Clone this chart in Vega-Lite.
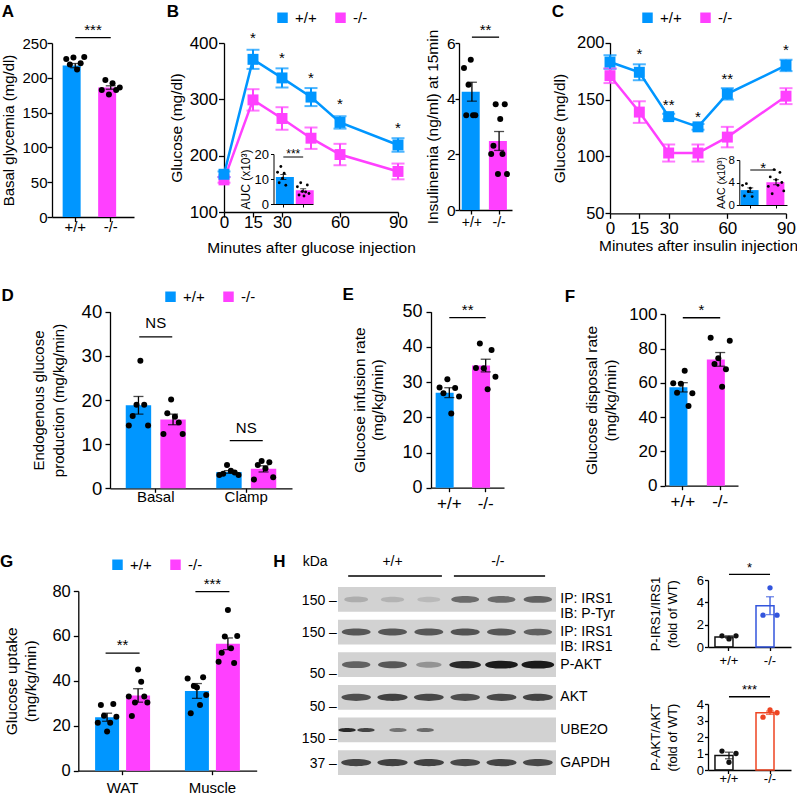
{
"$schema":"https://vega.github.io/schema/vega-lite/v6.json",
"width":797,"height":795,"autosize":{"type":"none"},"padding":0,"background":"white",
"config":{
 "font":"Liberation Sans",
 "view":{"stroke":null},
 "axis":{"grid":false,"domainColor":"#000","tickColor":"#000","labelColor":"#000","titleColor":"#000","labelFontSize":15,"titleFontSize":15,"titleFontWeight":"normal","tickSize":5,"labelPadding":3,"domainWidth":1.3,"tickWidth":1.3,"labelFlush":false,"labelOverlap":false,"labelAngle":0},
 "legend":{"labelFontSize":15,"labelColor":"#000"},
 "text":{"fontSize":15,"color":"#000"}
},
"datasets":{
 "A_bars":[{"g":"+/+","mean":217.5,"sem":3},{"g":"-/-","mean":186,"sem":2.5}],
 "A_pts":[{"g":"+/+","rep":"1","v":227},{"g":"+/+","rep":"2","v":219},{"g":"+/+","rep":"3","v":229},{"g":"+/+","rep":"4","v":212},{"g":"+/+","rep":"5","v":221},{"g":"+/+","rep":"6","v":230},
  {"g":"-/-","rep":"1","v":182.5},{"g":"-/-","rep":"2","v":197},{"g":"-/-","rep":"3","v":176},{"g":"-/-","rep":"4","v":192},{"g":"-/-","rep":"5","v":182.5},{"g":"-/-","rep":"6","v":186}],
 "A_sig":[{"g1":"+/+","g2":"-/-","y":257.6,"ys":261.6,"label":"***"}],
 "B_line":[{"t":0,"g":"-/-","mean":157,"sem":5},{"t":15,"g":"-/-","mean":299,"sem":19},{"t":30,"g":"-/-","mean":266,"sem":20},{"t":45,"g":"-/-","mean":231,"sem":19},{"t":60,"g":"-/-","mean":202,"sem":19},{"t":90,"g":"-/-","mean":172,"sem":14},
  {"t":0,"g":"+/+","mean":167,"sem":5},{"t":15,"g":"+/+","mean":371,"sem":17},{"t":30,"g":"+/+","mean":338,"sem":17},{"t":45,"g":"+/+","mean":304,"sem":16},{"t":60,"g":"+/+","mean":259,"sem":11},{"t":90,"g":"+/+","mean":219,"sem":12}],
 "B_sig":[{"t":15,"y":400,"label":"*"},{"t":30,"y":364.5,"label":"*"},{"t":45,"y":329,"label":"*"},{"t":60,"y":283,"label":"*"},{"t":90,"y":240,"label":"*"}],
 "Bi_bars":[{"g":"+/+","mean":10.8,"sem":1.0},{"g":"-/-","mean":5.5,"sem":0.6}],
 "Bi_pts":[{"g":"+/+","rep":"1","v":12.7},{"g":"+/+","rep":"2","v":8.5},{"g":"+/+","rep":"3","v":15},{"g":"+/+","rep":"4","v":10.3},{"g":"+/+","rep":"5","v":12.3},{"g":"+/+","rep":"6","v":7.5},
  {"g":"-/-","rep":"1","v":6.9},{"g":"-/-","rep":"2","v":3.6},{"g":"-/-","rep":"3","v":8.5},{"g":"-/-","rep":"4","v":5},{"g":"-/-","rep":"5","v":3.2},{"g":"-/-","rep":"6","v":4.8},{"g":"-/-","rep":"7","v":7.6},{"g":"-/-","rep":"8","v":4.2}],
 "Bi_sig":[{"g1":"+/+","g2":"-/-","y":18.8,"ys":18.4,"label":"***"}],
 "Ins_bars":[{"g":"+/+","mean":4.25,"sem":0.34},{"g":"-/-","mean":2.48,"sem":0.34}],
 "Ins_pts":[{"g":"+/+","rep":"1","v":5.1},{"g":"+/+","rep":"2","v":3.4},{"g":"+/+","rep":"3","v":4.5},{"g":"+/+","rep":"4","v":5.4},{"g":"+/+","rep":"5","v":3.4},{"g":"+/+","rep":"6","v":3.4},
  {"g":"-/-","rep":"1","v":2.01},{"g":"-/-","rep":"2","v":2.31},{"g":"-/-","rep":"3","v":3.8},{"g":"-/-","rep":"4","v":1.29},{"g":"-/-","rep":"5","v":3.27},{"g":"-/-","rep":"6","v":2.01},{"g":"-/-","rep":"7","v":3.8},{"g":"-/-","rep":"8","v":1.29}],
 "Ins_sig":[{"g1":"+/+","g2":"-/-","y":6.21,"ys":6.28,"label":"**"}],
 "C_line":[{"t":0,"g":"-/-","mean":171,"sem":6.5},{"t":15,"g":"-/-","mean":139,"sem":9.5},{"t":30,"g":"-/-","mean":103,"sem":7.5},{"t":45,"g":"-/-","mean":103,"sem":7.5},{"t":60,"g":"-/-","mean":117,"sem":9},{"t":90,"g":"-/-","mean":153,"sem":7},
  {"t":0,"g":"+/+","mean":183,"sem":6},{"t":15,"g":"+/+","mean":174,"sem":7},{"t":30,"g":"+/+","mean":135,"sem":2.5},{"t":45,"g":"+/+","mean":126,"sem":2.5},{"t":60,"g":"+/+","mean":155,"sem":5},{"t":90,"g":"+/+","mean":180,"sem":5}],
 "C_sig":[{"t":15,"y":186.1,"label":"*"},{"t":30,"y":140.4,"label":"**"},{"t":45,"y":130.7,"label":"*"},{"t":60,"y":163.3,"label":"**"},{"t":90,"y":189.6,"label":"*"}],
 "Ci_bars":[{"g":"+/+","mean":2.65,"sem":0.4},{"g":"-/-","mean":4.05,"sem":0.45}],
 "Ci_pts":[{"g":"+/+","rep":"1","v":3.5},{"g":"+/+","rep":"2","v":1.6},{"g":"+/+","rep":"3","v":3.8},{"g":"+/+","rep":"4","v":2.4},{"g":"+/+","rep":"5","v":3.0},{"g":"+/+","rep":"6","v":1.5},
  {"g":"-/-","rep":"1","v":3.3},{"g":"-/-","rep":"2","v":5.0},{"g":"-/-","rep":"3","v":2.0},{"g":"-/-","rep":"4","v":6.3},{"g":"-/-","rep":"5","v":4.5},{"g":"-/-","rep":"6","v":3.5},{"g":"-/-","rep":"7","v":5.8},{"g":"-/-","rep":"8","v":4.0},{"g":"-/-","rep":"9","v":2.5}],
 "Ci_sig":[{"g1":"+/+","g2":"-/-","y":6.22,"ys":5.64,"label":"*"}],
 "D_bars":[{"grp":"Basal","g":"+/+","mean":18.8,"sem":2.0},{"grp":"Basal","g":"-/-","mean":15.6,"sem":1.2},{"grp":"Clamp","g":"+/+","mean":3.7,"sem":0.3},{"grp":"Clamp","g":"-/-","mean":4.4,"sem":0.7}],
 "D_pts":[
  {"grp":"Basal","slot":"+/+1","v":14.2},{"grp":"Basal","slot":"+/+2","v":16.4},{"grp":"Basal","slot":"+/+3","v":18.9},{"grp":"Basal","slot":"+/+4","v":28.9},{"grp":"Basal","slot":"+/+5","v":18.9},{"grp":"Basal","slot":"+/+6","v":14.2},
  {"grp":"Basal","slot":"-/-1","v":12.3},{"grp":"Basal","slot":"-/-2","v":17},{"grp":"Basal","slot":"-/-3","v":20.1},{"grp":"Basal","slot":"-/-4","v":16.2},{"grp":"Basal","slot":"-/-5","v":14.9},{"grp":"Basal","slot":"-/-6","v":12.3},
  {"grp":"Clamp","slot":"+/+1","v":3.0},{"grp":"Clamp","slot":"+/+2","v":3.3},{"grp":"Clamp","slot":"+/+3","v":5.3},{"grp":"Clamp","slot":"+/+4","v":4.0},{"grp":"Clamp","slot":"+/+5","v":3.6},{"grp":"Clamp","slot":"+/+6","v":3.0},
  {"grp":"Clamp","slot":"-/-1","v":2.0},{"grp":"Clamp","slot":"-/-2","v":5.3},{"grp":"Clamp","slot":"-/-3","v":6.2},{"grp":"Clamp","slot":"-/-4","v":4.5},{"grp":"Clamp","slot":"-/-5","v":5.9},{"grp":"Clamp","slot":"-/-6","v":2.5}],
 "D_sig":[{"grp":"Basal","y":34.3,"ys":36.2,"label":"NS"},{"grp":"Clamp","y":10.8,"ys":12.46,"label":"NS"}],
 "E_bars":[{"g":"+/+","mean":27,"sem":1.4},{"g":"-/-","mean":34.7,"sem":1.8}],
 "E_pts":[{"g":"+/+","rep":"1","v":28.5},{"g":"+/+","rep":"2","v":26.8},{"g":"+/+","rep":"3","v":30.8},{"g":"+/+","rep":"4","v":21.1},{"g":"+/+","rep":"5","v":28.3},{"g":"+/+","rep":"6","v":25.9},
  {"g":"-/-","rep":"1","v":34},{"g":"-/-","rep":"2","v":41},{"g":"-/-","rep":"3","v":33.9},{"g":"-/-","rep":"4","v":28},{"g":"-/-","rep":"5","v":39.1},{"g":"-/-","rep":"6","v":31.5}],
 "E_sig":[{"g1":"+/+","g2":"-/-","y":48.3,"ys":49.1,"label":"**"}],
 "F_bars":[{"g":"+/+","mean":57.4,"sem":2.7},{"g":"-/-","mean":73.7,"sem":4}],
 "F_pts":[{"g":"+/+","rep":"1","v":59.7},{"g":"+/+","rep":"2","v":54.3},{"g":"+/+","rep":"3","v":59.5},{"g":"+/+","rep":"4","v":67},{"g":"+/+","rep":"5","v":46.5},{"g":"+/+","rep":"6","v":54},
  {"g":"-/-","rep":"1","v":86.3},{"g":"-/-","rep":"2","v":71},{"g":"-/-","rep":"3","v":74.3},{"g":"-/-","rep":"4","v":57.8},{"g":"-/-","rep":"5","v":67.9},{"g":"-/-","rep":"6","v":84.6}],
 "F_sig":[{"g1":"+/+","g2":"-/-","y":98,"ys":99.6,"label":"*"}],
 "G_bars":[{"grp":"WAT","g":"+/+","mean":23.8,"sem":1.8},{"grp":"WAT","g":"-/-","mean":33.5,"sem":3},{"grp":"Muscle","g":"+/+","mean":35.5,"sem":3.3},{"grp":"Muscle","g":"-/-","mean":56.5,"sem":2.6}],
 "G_pts":[
  {"grp":"WAT","slot":"+/+1","v":21.4},{"grp":"WAT","slot":"+/+2","v":29.2},{"grp":"WAT","slot":"+/+3","v":24.5},{"grp":"WAT","slot":"+/+4","v":17.4},{"grp":"WAT","slot":"+/+5","v":21.4},{"grp":"WAT","slot":"+/+6","v":29.7},{"grp":"WAT","slot":"+/+7","v":24},
  {"grp":"WAT","slot":"-/-1","v":33},{"grp":"WAT","slot":"-/-2","v":24.4},{"grp":"WAT","slot":"-/-3","v":30.4},{"grp":"WAT","slot":"-/-4","v":45.1},{"grp":"WAT","slot":"-/-5","v":39.6},{"grp":"WAT","slot":"-/-6","v":33},{"grp":"WAT","slot":"-/-7","v":30.4},
  {"grp":"Muscle","slot":"+/+1","v":41.1},{"grp":"Muscle","slot":"+/+2","v":25.6},{"grp":"Muscle","slot":"+/+3","v":37.7},{"grp":"Muscle","slot":"+/+4","v":37},{"grp":"Muscle","slot":"+/+5","v":29.3},{"grp":"Muscle","slot":"+/+6","v":41.6},{"grp":"Muscle","slot":"+/+7","v":33.7},
  {"grp":"Muscle","slot":"-/-1","v":48.5},{"grp":"Muscle","slot":"-/-2","v":52.5},{"grp":"Muscle","slot":"-/-3","v":59.7},{"grp":"Muscle","slot":"-/-4","v":71.5},{"grp":"Muscle","slot":"-/-5","v":54.5},{"grp":"Muscle","slot":"-/-6","v":48},{"grp":"Muscle","slot":"-/-7","v":60}],
 "G_sig":[{"grp":"WAT","y":52.3,"ys":53.8,"label":"**"},{"grp":"Muscle","y":79.7,"ys":80.8,"label":"***"}],
 "H_rows":[{"row":"P-Tyr","label":"IP: IRS1\nIB: P-Tyr","kda":"150 –"},{"row":"IRS1","label":"IP: IRS1\nIB: IRS1","kda":"150 –"},{"row":"P-AKT","label":"P-AKT","kda":"50 –"},{"row":"AKT","label":"AKT","kda":"50 –"},{"row":"UBE2O","label":"UBE2O","kda":"150 –"},{"row":"GAPDH","label":"GAPDH","kda":"37 –"}],
 "H_bands":[
  {"row":"P-Tyr","lane":1,"intensity":0.18},{"row":"P-Tyr","lane":2,"intensity":0.15},{"row":"P-Tyr","lane":3,"intensity":0.12},{"row":"P-Tyr","lane":4,"intensity":0.5},{"row":"P-Tyr","lane":5,"intensity":0.5},{"row":"P-Tyr","lane":6,"intensity":0.55},
  {"row":"IRS1","lane":1,"intensity":0.6},{"row":"IRS1","lane":2,"intensity":0.6},{"row":"IRS1","lane":3,"intensity":0.6},{"row":"IRS1","lane":4,"intensity":0.62},{"row":"IRS1","lane":5,"intensity":0.6},{"row":"IRS1","lane":6,"intensity":0.55},
  {"row":"P-AKT","lane":1,"intensity":0.55},{"row":"P-AKT","lane":2,"intensity":0.6},{"row":"P-AKT","lane":3,"intensity":0.3},{"row":"P-AKT","lane":4,"intensity":0.85},{"row":"P-AKT","lane":5,"intensity":0.95},{"row":"P-AKT","lane":6,"intensity":0.95},
  {"row":"AKT","lane":1,"intensity":0.65},{"row":"AKT","lane":2,"intensity":0.72},{"row":"AKT","lane":3,"intensity":0.68},{"row":"AKT","lane":4,"intensity":0.65},{"row":"AKT","lane":5,"intensity":0.68},{"row":"AKT","lane":6,"intensity":0.7},
  {"row":"GAPDH","lane":1,"intensity":0.7},{"row":"GAPDH","lane":2,"intensity":0.72},{"row":"GAPDH","lane":3,"intensity":0.72},{"row":"GAPDH","lane":4,"intensity":0.68},{"row":"GAPDH","lane":5,"intensity":0.7},{"row":"GAPDH","lane":6,"intensity":0.68}],
 "H_ube":[{"row":"UBE2O","lane":0.75,"intensity":0.85},{"row":"UBE2O","lane":1.27,"intensity":0.7},{"row":"UBE2O","lane":2.15,"intensity":0.45},{"row":"UBE2O","lane":2.9,"intensity":0.5}],
 "H_hdr":[{"row":"hdr","label":"kDa","lane":-0.13},{"row":"hdr","label":"+/+","lane":2},{"row":"hdr","label":"-/-","lane":4.9}],
 "H_grp":[{"row":"hdr","from":0.78,"to":3.36},{"row":"hdr","from":3.69,"to":6.2}],
 "Ht_bars":[{"g":"+/+","mean":0.9,"sem":0.1},{"g":"-/-","mean":3.7,"sem":0.8}],
 "Ht_pts":[{"g":"+/+","rep":"1","v":1.0},{"g":"+/+","rep":"2","v":0.72},{"g":"+/+","rep":"3","v":1.0},{"g":"-/-","rep":"1","v":2.85},{"g":"-/-","rep":"2","v":5.3},{"g":"-/-","rep":"3","v":2.85}],
 "Ht_sig":[{"g1":"+/+","g2":"-/-","y":6.51,"ys":6.68,"label":"*"}],
 "Hb_bars":[{"g":"+/+","mean":0.88,"sem":0.2},{"g":"-/-","mean":3.47,"sem":0.1}],
 "Hb_pts":[{"g":"+/+","rep":"1","v":1.15},{"g":"+/+","rep":"2","v":0.47},{"g":"+/+","rep":"3","v":1.0},{"g":"-/-","rep":"1","v":3.2},{"g":"-/-","rep":"2","v":3.64},{"g":"-/-","rep":"3","v":3.47}],
 "Hb_sig":[{"g1":"+/+","g2":"-/-","y":4.44,"ys":4.6,"label":"***"}]
},
"layer":[
 {"layer":[
  {"data":{"name":"A_bars"},"mark":{"type":"bar"},"encoding":{
    "x":{"field":"g","type":"nominal","scale":{"domain":["+/+","-/-"],"range":[52,134],"paddingInner":0.29,"paddingOuter":0.3},"axis":{"orient":"bottom","offset":-578,"title":null,"tickSize":4.5,"labelPadding":-2.5}},
    "y":{"field":"mean","type":"quantitative","scale":{"domain":[0,250],"range":[217,43],"nice":false,"zero":false},"axis":{"orient":"left","offset":-52,"values":[0,50,100,150,200,250],"format":"d","title":"Basal glycemia (mg/dl)","titlePadding":5.7,"labelPadding":0}},
    "color":{"field":"g","type":"nominal","scale":{"domain":["+/+","-/-"],"range":["#0096ff","#ff40ff"]},"legend":null}}},
  {"data":{"name":"A_bars"},"mark":{"type":"errorbar","ticks":true,"size":10,"thickness":1.3,"color":"#000"},"encoding":{
    "x":{"field":"g","type":"nominal","title":null},"y":{"field":"mean","type":"quantitative","title":"Basal glycemia (mg/dl)"},"yError":{"field":"sem"}}},
  {"data":{"name":"A_pts"},"mark":{"type":"circle","color":"#000","size":36,"opacity":1},"encoding":{
    "x":{"field":"g","type":"nominal"},"xOffset":{"field":"rep","type":"nominal","scale":{"type":"point","padding":1}},"y":{"field":"v","type":"quantitative"}}},
  {"data":{"name":"A_sig"},"mark":{"type":"rule","color":"#000","strokeWidth":1.3},"encoding":{
    "x":{"field":"g1","type":"nominal"},"x2":{"field":"g2"},"y":{"field":"y","type":"quantitative"}}},
  {"data":{"name":"A_sig"},"mark":{"type":"text","dx":17.75,"fontSize":15,"baseline":"alphabetic"},"encoding":{
    "x":{"field":"g1","type":"nominal"},"y":{"field":"ys","type":"quantitative"},"text":{"field":"label"}}},
  {"data":{"values":[{"g":"+/+","L":"A"}]},"mark":{"type":"text","fontSize":17,"fontWeight":"bold","align":"left","baseline":"alphabetic"},"encoding":{
    "x":{"field":"g","type":"nominal","bandPosition":-2.42},"y":{"datum":287.8,"type":"quantitative"},"text":{"field":"L"}}}
 ]},
 {"layer":[
  {"data":{"name":"B_line"},"mark":{"type":"line","strokeWidth":2.5},"encoding":{
    "x":{"field":"t","type":"quantitative","scale":{"domain":[0,90],"range":[224,398],"nice":false,"zero":false},"axis":{"orient":"bottom","offset":-583,"values":[0,15,30,60,90],"format":"d","title":"Minutes after glucose injection","titlePadding":10.5,"labelPadding":-3,"labelFontSize":17,"titleFontSize":15.5}},
    "y":{"field":"mean","type":"quantitative","scale":{"domain":[100,400],"range":[212,43],"nice":false,"zero":false},"axis":{"orient":"left","offset":-224,"values":[100,200,300,400],"format":"d","title":"Glucose (mg/dl)","titlePadding":4.8,"labelPadding":1,"tickSize":5.5,"labelFontSize":17,"titleFontSize":15.5}},
    "color":{"field":"g","type":"nominal","scale":{"domain":["+/+","-/-"],"range":["#0096ff","#ff40ff"]},"legend":null}}},
  {"data":{"name":"B_line"},"mark":{"type":"errorbar","ticks":true,"size":13,"thickness":2},"encoding":{
    "x":{"field":"t","type":"quantitative","title":"Minutes after glucose injection"},"y":{"field":"mean","type":"quantitative","title":"Glucose (mg/dl)"},"yError":{"field":"sem"},
    "color":{"field":"g","type":"nominal","legend":null}}},
  {"data":{"name":"B_line"},"mark":{"type":"point","shape":"square","filled":true,"size":120,"opacity":1},"encoding":{
    "x":{"field":"t","type":"quantitative"},"y":{"field":"mean","type":"quantitative"},
    "color":{"field":"g","type":"nominal","legend":null}}},
  {"data":{"name":"B_sig"},"mark":{"type":"text","fontSize":15,"baseline":"alphabetic"},"encoding":{
    "x":{"field":"t","type":"quantitative"},"y":{"field":"y","type":"quantitative"},"text":{"field":"label"}}},
  {"data":{"values":[{"L":"B"}]},"mark":{"type":"text","fontSize":17,"fontWeight":"bold","align":"left","baseline":"alphabetic"},"encoding":{
    "x":{"datum":-29.6,"type":"quantitative"},"y":{"datum":446.7,"type":"quantitative"},"text":{"field":"L"}}}
 ]},
 {"layer":[
  {"data":{"name":"Bi_bars"},"mark":{"type":"bar"},"encoding":{
    "x":{"field":"g","type":"nominal","scale":{"domain":["+/+","-/-"],"range":[273.5,313],"paddingInner":0.25,"paddingOuter":0.12},"axis":{"orient":"bottom","offset":-591,"title":null,"labels":false,"tickSize":3,"domainWidth":1,"tickWidth":1}},
    "y":{"field":"mean","type":"quantitative","scale":{"domain":[0,20],"range":[204,154],"nice":false},"axis":{"orient":"left","offset":-273.5,"values":[0,10,20],"format":"d","title":"AUC (x10³)","labelFontSize":13,"titleFontSize":12,"tickSize":3,"labelPadding":2,"titlePadding":1.3,"domainWidth":1,"tickWidth":1}},
    "color":{"field":"g","type":"nominal","scale":{"domain":["+/+","-/-"],"range":["#0096ff","#ff40ff"]},"legend":null}}},
  {"data":{"name":"Bi_bars"},"mark":{"type":"errorbar","ticks":true,"size":6,"thickness":1,"color":"#000"},"encoding":{
    "x":{"field":"g","type":"nominal","title":null},"y":{"field":"mean","type":"quantitative","title":"AUC (x10³)"},"yError":{"field":"sem"}}},
  {"data":{"name":"Bi_pts"},"mark":{"type":"circle","color":"#000","size":8,"opacity":1},"encoding":{
    "x":{"field":"g","type":"nominal"},"xOffset":{"field":"rep","type":"nominal","scale":{"type":"point","padding":1}},"y":{"field":"v","type":"quantitative"}}},
  {"data":{"name":"Bi_sig"},"mark":{"type":"rule","color":"#000","strokeWidth":1},"encoding":{
    "x":{"field":"g1","type":"nominal"},"x2":{"field":"g2"},"y":{"field":"y","type":"quantitative"}}},
  {"data":{"name":"Bi_sig"},"mark":{"type":"text","dx":9.9,"fontSize":12,"baseline":"alphabetic"},"encoding":{
    "x":{"field":"g1","type":"nominal"},"y":{"field":"ys","type":"quantitative"},"text":{"field":"label"}}}
 ]},
 {"layer":[
  {"data":{"name":"Ins_bars"},"mark":{"type":"bar"},"encoding":{
    "x":{"field":"g","type":"nominal","scale":{"domain":["+/+","-/-"],"range":[459,512],"paddingInner":0.25,"paddingOuter":0.1},"axis":{"orient":"bottom","offset":-585,"title":null,"tickSize":4,"labelPadding":1.5,"labelFontSize":14}},
    "y":{"field":"mean","type":"quantitative","scale":{"domain":[0,6],"range":[210,43],"nice":false},"axis":{"orient":"left","offset":-459,"values":[0,2,4,6],"format":"d","title":"Insulinemia (ng/ml) at 15min","titlePadding":6.2,"labelPadding":0,"tickSize":4,"labelFontSize":15.5,"titleFontSize":15.5}},
    "color":{"field":"g","type":"nominal","scale":{"domain":["+/+","-/-"],"range":["#0096ff","#ff40ff"]},"legend":null}}},
  {"data":{"name":"Ins_bars"},"mark":{"type":"errorbar","ticks":true,"size":10,"thickness":1.3,"color":"#000"},"encoding":{
    "x":{"field":"g","type":"nominal","title":null},"y":{"field":"mean","type":"quantitative","title":"Insulinemia (ng/ml) at 15min"},"yError":{"field":"sem"}}},
  {"data":{"name":"Ins_pts"},"mark":{"type":"circle","color":"#000","size":36,"opacity":1},"encoding":{
    "x":{"field":"g","type":"nominal"},"xOffset":{"field":"rep","type":"nominal","scale":{"type":"point","padding":1}},"y":{"field":"v","type":"quantitative"}}},
  {"data":{"name":"Ins_sig"},"mark":{"type":"rule","color":"#000","strokeWidth":1.3},"encoding":{
    "x":{"field":"g1","type":"nominal"},"x2":{"field":"g2"},"y":{"field":"y","type":"quantitative"}}},
  {"data":{"name":"Ins_sig"},"mark":{"type":"text","dx":13.6,"fontSize":15,"baseline":"alphabetic"},"encoding":{
    "x":{"field":"g1","type":"nominal"},"y":{"field":"ys","type":"quantitative"},"text":{"field":"label"}}}
 ]},
 {"layer":[
  {"data":{"name":"C_line"},"mark":{"type":"line","strokeWidth":2.5},"encoding":{
    "x":{"field":"t","type":"quantitative","scale":{"domain":[0,90],"range":[610,786],"nice":false,"zero":false},"axis":{"orient":"bottom","offset":-581.7,"values":[0,15,30,60,90],"format":"d","title":"Minutes after insulin injection","titlePadding":2,"labelPadding":2,"labelFontSize":17,"titleFontSize":15.5}},
    "y":{"field":"mean","type":"quantitative","scale":{"domain":[50,200],"range":[213.3,42.7],"nice":false,"zero":false},"axis":{"orient":"left","offset":-610,"values":[50,100,150,200],"format":"d","title":"Glucose (mg/dl)","titlePadding":9.2,"labelPadding":1,"labelFontSize":16.5,"titleFontSize":15.5}},
    "color":{"field":"g","type":"nominal","scale":{"domain":["+/+","-/-"],"range":["#0096ff","#ff40ff"]},"legend":null}}},
  {"data":{"name":"C_line"},"mark":{"type":"errorbar","ticks":true,"size":13,"thickness":2},"encoding":{
    "x":{"field":"t","type":"quantitative","title":"Minutes after insulin injection"},"y":{"field":"mean","type":"quantitative","title":"Glucose (mg/dl)"},"yError":{"field":"sem"},
    "color":{"field":"g","type":"nominal","legend":null}}},
  {"data":{"name":"C_line"},"mark":{"type":"point","shape":"square","filled":true,"size":120,"opacity":1},"encoding":{
    "x":{"field":"t","type":"quantitative"},"y":{"field":"mean","type":"quantitative"},
    "color":{"field":"g","type":"nominal","legend":null}}},
  {"data":{"name":"C_sig"},"mark":{"type":"text","fontSize":15,"baseline":"alphabetic"},"encoding":{
    "x":{"field":"t","type":"quantitative"},"y":{"field":"y","type":"quantitative"},"text":{"field":"label"}}},
  {"data":{"values":[{"L":"C"}]},"mark":{"type":"text","fontSize":17,"fontWeight":"bold","align":"left","baseline":"alphabetic"},"encoding":{
    "x":{"datum":-29.8,"type":"quantitative"},"y":{"datum":222.9,"type":"quantitative"},"text":{"field":"L"}}}
 ]},
 {"layer":[
  {"data":{"name":"Ci_bars"},"mark":{"type":"bar"},"encoding":{
    "x":{"field":"g","type":"nominal","scale":{"domain":["+/+","-/-"],"range":[739.3,787],"paddingInner":0.25,"paddingOuter":0.05},"axis":{"orient":"bottom","offset":-590,"title":null,"labels":false,"tickSize":3,"domainWidth":1,"tickWidth":1}},
    "y":{"field":"mean","type":"quantitative","scale":{"domain":[0,8],"range":[205,160],"nice":false},"axis":{"orient":"left","offset":-739.3,"values":[0,4,8],"format":"d","title":"AAC (x10³)","labelFontSize":11.5,"titleFontSize":10.5,"tickSize":3,"labelPadding":2,"titlePadding":1,"domainWidth":1,"tickWidth":1}},
    "color":{"field":"g","type":"nominal","scale":{"domain":["+/+","-/-"],"range":["#0096ff","#ff40ff"]},"legend":null}}},
  {"data":{"name":"Ci_bars"},"mark":{"type":"errorbar","ticks":true,"size":6,"thickness":1,"color":"#000"},"encoding":{
    "x":{"field":"g","type":"nominal","title":null},"y":{"field":"mean","type":"quantitative","title":"AAC (x10³)"},"yError":{"field":"sem"}}},
  {"data":{"name":"Ci_pts"},"mark":{"type":"circle","color":"#000","size":8,"opacity":1},"encoding":{
    "x":{"field":"g","type":"nominal"},"xOffset":{"field":"rep","type":"nominal","scale":{"type":"point","padding":1}},"y":{"field":"v","type":"quantitative"}}},
  {"data":{"name":"Ci_sig"},"mark":{"type":"rule","color":"#000","strokeWidth":1},"encoding":{
    "x":{"field":"g1","type":"nominal"},"x2":{"field":"g2"},"y":{"field":"y","type":"quantitative"}}},
  {"data":{"name":"Ci_sig"},"mark":{"type":"text","dx":12.9,"fontSize":15,"baseline":"alphabetic"},"encoding":{
    "x":{"field":"g1","type":"nominal"},"y":{"field":"ys","type":"quantitative"},"text":{"field":"label"}}}
 ]},
 {"layer":[
  {"data":{"name":"D_bars"},"mark":{"type":"bar"},"encoding":{
    "x":{"field":"grp","type":"nominal","scale":{"domain":["Basal","Clamp"],"range":[110,292],"paddingInner":0.337,"paddingOuter":0.174},"axis":{"orient":"bottom","offset":-306.7,"title":null,"tickSize":4,"labelPadding":-3}},
    "xOffset":{"field":"g","type":"nominal","scale":{"domain":["+/+","-/-"],"paddingInner":0.265,"paddingOuter":0}},
    "y":{"field":"mean","type":"quantitative","scale":{"domain":[0,40],"range":[488.3,311.7],"nice":false},"axis":{"orient":"left","offset":-110,"values":[0,10,20,30,40],"format":"d","title":["Endogenous glucose","production (mg/kg/min)"],"titlePadding":14.5,"titleLineHeight":20,"labelFontSize":18.5,"labelPadding":3.3}},
    "color":{"field":"g","type":"nominal","scale":{"domain":["+/+","-/-"],"range":["#0096ff","#ff40ff"]},"legend":null}}},
  {"data":{"name":"D_bars"},"mark":{"type":"errorbar","ticks":true,"size":10,"thickness":1.3,"color":"#000"},"encoding":{
    "x":{"field":"grp","type":"nominal","title":null},
    "xOffset":{"field":"g","type":"nominal","scale":{"domain":["+/+","-/-"],"paddingInner":0.265,"paddingOuter":0}},
    "y":{"field":"mean","type":"quantitative","title":["Endogenous glucose","production (mg/kg/min)"]},"yError":{"field":"sem"}}},
  {"data":{"name":"D_pts"},"mark":{"type":"circle","color":"#000","size":36,"opacity":1},"encoding":{
    "x":{"field":"grp","type":"nominal"},
    "xOffset":{"field":"slot","type":"nominal","scale":{"type":"point","domain":["+/+1","+/+2","+/+3","+/+4","+/+5","+/+6","s1","s2","s3","-/-1","-/-2","-/-3","-/-4","-/-5","-/-6"],"padding":0.8}},
    "y":{"field":"v","type":"quantitative"}}},
  {"data":{"name":"D_sig"},"mark":{"type":"tick","orient":"horizontal","size":33,"thickness":1.3,"color":"#000","opacity":1},"encoding":{
    "x":{"field":"grp","type":"nominal"},"y":{"field":"y","type":"quantitative"}}},
  {"data":{"name":"D_sig"},"mark":{"type":"text","fontSize":15,"baseline":"alphabetic"},"encoding":{
    "x":{"field":"grp","type":"nominal"},"y":{"field":"ys","type":"quantitative"},"text":{"field":"label"}}},
  {"data":{"values":[{"grp":"Basal","L":"D"}]},"mark":{"type":"text","fontSize":17,"fontWeight":"bold","align":"left","baseline":"alphabetic"},"encoding":{
    "x":{"field":"grp","type":"nominal","bandPosition":-2.07},"y":{"datum":42.5,"type":"quantitative"},"text":{"field":"L"}}}
 ],"resolve":{"scale":{"xOffset":"independent"}}},
 {"layer":[
  {"data":{"name":"E_bars"},"mark":{"type":"bar"},"encoding":{
    "x":{"field":"g","type":"nominal","scale":{"domain":["+/+","-/-"],"range":[431,504],"paddingInner":0.25,"paddingOuter":0.128},"axis":{"orient":"bottom","offset":-307.3,"title":null,"tickSize":4,"labelPadding":3.8,"labelFontSize":17}},
    "y":{"field":"mean","type":"quantitative","scale":{"domain":[0,50],"range":[487.7,311.7],"nice":false},"axis":{"orient":"left","offset":-431,"values":[0,10,20,30,40,50],"format":"d","title":["Glucose infusion rate","(mg/kg/min)"],"titlePadding":16.5,"titleLineHeight":18,"labelFontSize":18,"labelPadding":4,"titleFontSize":15.5}},
    "color":{"field":"g","type":"nominal","scale":{"domain":["+/+","-/-"],"range":["#0096ff","#ff40ff"]},"legend":null}}},
  {"data":{"name":"E_bars"},"mark":{"type":"errorbar","ticks":true,"size":10,"thickness":1.3,"color":"#000"},"encoding":{
    "x":{"field":"g","type":"nominal","title":null},"y":{"field":"mean","type":"quantitative","title":["Glucose infusion rate","(mg/kg/min)"]},"yError":{"field":"sem"}}},
  {"data":{"name":"E_pts"},"mark":{"type":"circle","color":"#000","size":36,"opacity":1},"encoding":{
    "x":{"field":"g","type":"nominal"},"xOffset":{"field":"rep","type":"nominal","scale":{"type":"point","padding":1}},"y":{"field":"v","type":"quantitative"}}},
  {"data":{"name":"E_sig"},"mark":{"type":"rule","color":"#000","strokeWidth":1.3},"encoding":{
    "x":{"field":"g1","type":"nominal"},"x2":{"field":"g2"},"y":{"field":"y","type":"quantitative"}}},
  {"data":{"name":"E_sig"},"mark":{"type":"text","dx":18.4,"fontSize":15,"baseline":"alphabetic"},"encoding":{
    "x":{"field":"g1","type":"nominal"},"y":{"field":"ys","type":"quantitative"},"text":{"field":"label"}}},
  {"data":{"values":[{"g":"+/+","L":"E"}]},"mark":{"type":"text","fontSize":17,"fontWeight":"bold","align":"left","baseline":"alphabetic"},"encoding":{
    "x":{"field":"g","type":"nominal","bandPosition":-3.41},"y":{"datum":53.3,"type":"quantitative"},"text":{"field":"L"}}}
 ]},
 {"layer":[
  {"data":{"name":"F_bars"},"mark":{"type":"bar"},"encoding":{
    "x":{"field":"g","type":"nominal","scale":{"domain":["+/+","-/-"],"range":[665,738],"paddingInner":0.285,"paddingOuter":0.118},"axis":{"orient":"bottom","offset":-309.3,"title":null,"tickSize":4,"labelPadding":3.5,"labelFontSize":17}},
    "y":{"field":"mean","type":"quantitative","scale":{"domain":[0,100],"range":[485.7,314.3],"nice":false},"axis":{"orient":"left","offset":-665,"values":[0,20,40,60,80,100],"format":"d","title":["Glucose disposal rate","(mg/kg/min)"],"titlePadding":9.7,"titleLineHeight":19,"labelFontSize":17,"labelPadding":3,"titleFontSize":15.5}},
    "color":{"field":"g","type":"nominal","scale":{"domain":["+/+","-/-"],"range":["#0096ff","#ff40ff"]},"legend":null}}},
  {"data":{"name":"F_bars"},"mark":{"type":"errorbar","ticks":true,"size":10,"thickness":1.3,"color":"#000"},"encoding":{
    "x":{"field":"g","type":"nominal","title":null},"y":{"field":"mean","type":"quantitative","title":["Glucose disposal rate","(mg/kg/min)"]},"yError":{"field":"sem"}}},
  {"data":{"name":"F_pts"},"mark":{"type":"circle","color":"#000","size":36,"opacity":1},"encoding":{
    "x":{"field":"g","type":"nominal"},"xOffset":{"field":"rep","type":"nominal","scale":{"type":"point","padding":1}},"y":{"field":"v","type":"quantitative"}}},
  {"data":{"name":"F_sig"},"mark":{"type":"rule","color":"#000","strokeWidth":1.3},"encoding":{
    "x":{"field":"g1","type":"nominal"},"x2":{"field":"g2"},"y":{"field":"y","type":"quantitative"}}},
  {"data":{"name":"F_sig"},"mark":{"type":"text","dx":18.65,"fontSize":15,"baseline":"alphabetic"},"encoding":{
    "x":{"field":"g1","type":"nominal"},"y":{"field":"ys","type":"quantitative"},"text":{"field":"label"}}},
  {"data":{"values":[{"g":"+/+","L":"F"}]},"mark":{"type":"text","fontSize":17,"fontWeight":"bold","align":"left","baseline":"alphabetic"},"encoding":{
    "x":{"field":"g","type":"nominal","bandPosition":-3.91},"y":{"datum":107.4,"type":"quantitative"},"text":{"field":"L"}}}
 ]},
 {"layer":[
  {"data":{"name":"G_bars"},"mark":{"type":"bar"},"encoding":{
    "x":{"field":"grp","type":"nominal","scale":{"domain":["WAT","Muscle"],"range":[78.3,256.7],"paddingInner":0.388,"paddingOuter":0.187},"axis":{"orient":"bottom","offset":-24.3,"title":null,"tickSize":4,"labelPadding":6}},
    "xOffset":{"field":"g","type":"nominal","scale":{"domain":["+/+","-/-"],"paddingInner":0.226,"paddingOuter":0}},
    "y":{"field":"mean","type":"quantitative","scale":{"domain":[0,80],"range":[770.7,591],"nice":false},"axis":{"orient":"left","offset":-78.3,"values":[0,20,40,60,80],"format":"d","title":["Glucose uptake","(mg/kg/min)"],"titlePadding":13.7,"titleLineHeight":18.3,"labelFontSize":16.5,"labelPadding":3,"titleFontSize":15.5}},
    "color":{"field":"g","type":"nominal","scale":{"domain":["+/+","-/-"],"range":["#0096ff","#ff40ff"]},"legend":null}}},
  {"data":{"name":"G_bars"},"mark":{"type":"errorbar","ticks":true,"size":10,"thickness":1.3,"color":"#000"},"encoding":{
    "x":{"field":"grp","type":"nominal","title":null},
    "xOffset":{"field":"g","type":"nominal","scale":{"domain":["+/+","-/-"],"paddingInner":0.226,"paddingOuter":0}},
    "y":{"field":"mean","type":"quantitative","title":["Glucose uptake","(mg/kg/min)"]},"yError":{"field":"sem"}}},
  {"data":{"name":"G_pts"},"mark":{"type":"circle","color":"#000","size":36,"opacity":1},"encoding":{
    "x":{"field":"grp","type":"nominal"},
    "xOffset":{"field":"slot","type":"nominal","scale":{"type":"point","domain":["+/+1","+/+2","+/+3","+/+4","+/+5","+/+6","+/+7","s1","s2","s3","-/-1","-/-2","-/-3","-/-4","-/-5","-/-6","-/-7"],"padding":0.87}},
    "y":{"field":"v","type":"quantitative"}}},
  {"data":{"name":"G_sig"},"mark":{"type":"tick","orient":"horizontal","size":34,"thickness":1.3,"color":"#000","opacity":1},"encoding":{
    "x":{"field":"grp","type":"nominal"},"y":{"field":"y","type":"quantitative"}}},
  {"data":{"name":"G_sig"},"mark":{"type":"text","fontSize":15,"baseline":"alphabetic"},"encoding":{
    "x":{"field":"grp","type":"nominal"},"y":{"field":"ys","type":"quantitative"},"text":{"field":"label"}}},
  {"data":{"values":[{"grp":"WAT","L":"G"}]},"mark":{"type":"text","fontSize":17,"fontWeight":"bold","align":"left","baseline":"alphabetic"},"encoding":{
    "x":{"field":"grp","type":"nominal","bandPosition":-1.73},"y":{"datum":90.8,"type":"quantitative"},"text":{"field":"L"}}}
 ],"resolve":{"scale":{"xOffset":"independent"}}},
 {"layer":[
  {"data":{"name":"H_rows"},"mark":{"type":"rect","color":"#d2d2d2"},"encoding":{
    "x":{"datum":0.5,"type":"quantitative","scale":{"domain":[0.5,6.5],"range":[338,556],"nice":false,"zero":false},"axis":null},
    "x2":{"datum":6.5},
    "y":{"field":"row","type":"nominal","scale":{"domain":["hdr","P-Tyr","IRS1","P-AKT","AKT","UBE2O","GAPDH"],"range":[554.4,775],"paddingInner":0.24,"paddingOuter":0},"axis":null}}},
  {"data":{"name":"H_bands"},"mark":{"type":"point","shape":"M -1 0 C -1 -0.32 1 -0.32 1 0 C 1 0.32 -1 0.32 -1 0 Z","filled":true,"opacity":1,"strokeWidth":0},"encoding":{
    "x":{"field":"lane","type":"quantitative"},"y":{"field":"row","type":"nominal"},
    "color":{"field":"intensity","type":"quantitative","scale":{"domain":[0,1],"range":["#d4d4d4","#111111"]},"legend":null},
    "size":{"field":"intensity","type":"quantitative","scale":{"domain":[0,1],"range":[450,1100]},"legend":null}}},
  {"data":{"name":"H_ube"},"mark":{"type":"point","shape":"M -1 0 C -1 -0.32 1 -0.32 1 0 C 1 0.32 -1 0.32 -1 0 Z","filled":true,"opacity":1,"strokeWidth":0,"size":300},"encoding":{
    "x":{"field":"lane","type":"quantitative"},"y":{"field":"row","type":"nominal"},
    "color":{"field":"intensity","type":"quantitative","legend":null}}},
  {"data":{"name":"H_hdr"},"mark":{"type":"text","fontSize":14,"baseline":"middle"},"encoding":{
    "x":{"field":"lane","type":"quantitative"},"y":{"field":"row","type":"nominal","bandPosition":0.31},"text":{"field":"label"}}},
  {"data":{"name":"H_grp"},"mark":{"type":"rule","color":"#000","strokeWidth":1.3},"encoding":{
    "x":{"field":"from","type":"quantitative"},"x2":{"field":"to"},"y":{"field":"row","type":"nominal","bandPosition":0.87}}},
  {"data":{"name":"H_rows"},"transform":[{"filter":{"field":"row","oneOf":["P-Tyr","IRS1","GAPDH"]}}],"mark":{"type":"text","align":"right","baseline":"middle","fontSize":14},"encoding":{
    "x":{"datum":0.47,"type":"quantitative"},"y":{"field":"row","type":"nominal","bandPosition":0.55},"text":{"field":"kda"}}},
  {"data":{"name":"H_rows"},"transform":[{"filter":{"field":"row","oneOf":["P-AKT","AKT","UBE2O"]}}],"mark":{"type":"text","align":"right","baseline":"middle","fontSize":14},"encoding":{
    "x":{"datum":0.47,"type":"quantitative"},"y":{"field":"row","type":"nominal","bandPosition":0.88},"text":{"field":"kda"}}},
  {"data":{"name":"H_rows"},"mark":{"type":"text","align":"left","baseline":"middle","fontSize":14,"lineBreak":"\n","lineHeight":15},"encoding":{
    "x":{"datum":6.62,"type":"quantitative"},"y":{"field":"row","type":"nominal"},"text":{"field":"label"}}},
  {"data":{"values":[{"row":"hdr","L":"H"}]},"mark":{"type":"text","fontSize":17,"fontWeight":"bold","align":"left","baseline":"alphabetic"},"encoding":{
    "x":{"datum":-1.28,"type":"quantitative"},"y":{"field":"row","type":"nominal","bandPosition":0.5},"text":{"field":"L"}}}
 ]},
 {"layer":[
  {"data":{"name":"Ht_bars"},"mark":{"type":"bar","filled":false,"strokeWidth":1.5},"encoding":{
    "x":{"field":"g","type":"nominal","scale":{"domain":["+/+","-/-"],"range":[708,791],"paddingInner":0.317,"paddingOuter":0.17},"axis":{"orient":"bottom","offset":-148,"title":null,"labelFontSize":13,"tickSize":3.5,"labelPadding":3.7}},
    "y":{"field":"mean","type":"quantitative","scale":{"domain":[0,6],"range":[647,580],"nice":false},"axis":{"orient":"left","offset":-708,"values":[0,2,4,6],"format":"d","title":["P-IRS1/IRS1","(fold of WT)"],"labelFontSize":13,"titleFontSize":13,"tickSize":3.5,"labelPadding":1,"titlePadding":17,"titleLineHeight":16.7}},
    "color":{"field":"g","type":"nominal","scale":{"domain":["+/+","-/-"],"range":["#111111","#3355dd"]},"legend":null}}},
  {"data":{"name":"Ht_bars"},"mark":{"type":"errorbar","ticks":true,"size":8,"thickness":1.3},"encoding":{
    "x":{"field":"g","type":"nominal","title":null},"y":{"field":"mean","type":"quantitative","title":["P-IRS1/IRS1","(fold of WT)"]},"yError":{"field":"sem"},"color":{"field":"g","type":"nominal","legend":null}}},
  {"data":{"name":"Ht_pts"},"mark":{"type":"circle","size":28,"opacity":1},"encoding":{
    "x":{"field":"g","type":"nominal"},"xOffset":{"field":"rep","type":"nominal","scale":{"type":"point","padding":1}},"y":{"field":"v","type":"quantitative"},"color":{"field":"g","type":"nominal","legend":null}}},
  {"data":{"name":"Ht_sig"},"mark":{"type":"rule","color":"#000","strokeWidth":1.3},"encoding":{
    "x":{"field":"g1","type":"nominal"},"x2":{"field":"g2"},"y":{"field":"y","type":"quantitative"}}},
  {"data":{"name":"Ht_sig"},"mark":{"type":"text","dx":20.5,"fontSize":13,"baseline":"alphabetic"},"encoding":{
    "x":{"field":"g1","type":"nominal"},"y":{"field":"ys","type":"quantitative"},"text":{"field":"label"}}}
 ]},
 {"layer":[
  {"data":{"name":"Hb_bars"},"mark":{"type":"bar","filled":false,"strokeWidth":1.5},"encoding":{
    "x":{"field":"g","type":"nominal","scale":{"domain":["+/+","-/-"],"range":[708,791],"paddingInner":0.317,"paddingOuter":0.17},"axis":{"orient":"bottom","offset":-25,"title":null,"labelFontSize":13,"tickSize":3.5,"labelPadding":-1}},
    "y":{"field":"mean","type":"quantitative","scale":{"domain":[0,4],"range":[770,704],"nice":false},"axis":{"orient":"left","offset":-708,"values":[0,1,2,3,4],"format":"d","title":["P-AKT/AKT","(fold of WT)"],"labelFontSize":13,"titleFontSize":13,"tickSize":3.5,"labelPadding":1,"titlePadding":17,"titleLineHeight":16.7}},
    "color":{"field":"g","type":"nominal","scale":{"domain":["+/+","-/-"],"range":["#111111","#ee4422"]},"legend":null}}},
  {"data":{"name":"Hb_bars"},"mark":{"type":"errorbar","ticks":true,"size":8,"thickness":1.3},"encoding":{
    "x":{"field":"g","type":"nominal","title":null},"y":{"field":"mean","type":"quantitative","title":["P-AKT/AKT","(fold of WT)"]},"yError":{"field":"sem"},"color":{"field":"g","type":"nominal","legend":null}}},
  {"data":{"name":"Hb_pts"},"mark":{"type":"circle","size":28,"opacity":1},"encoding":{
    "x":{"field":"g","type":"nominal"},"xOffset":{"field":"rep","type":"nominal","scale":{"type":"point","padding":1}},"y":{"field":"v","type":"quantitative"},"color":{"field":"g","type":"nominal","legend":null}}},
  {"data":{"name":"Hb_sig"},"mark":{"type":"rule","color":"#000","strokeWidth":1.3},"encoding":{
    "x":{"field":"g1","type":"nominal"},"x2":{"field":"g2"},"y":{"field":"y","type":"quantitative"}}},
  {"data":{"name":"Hb_sig"},"mark":{"type":"text","dx":20.5,"fontSize":13,"baseline":"alphabetic"},"encoding":{
    "x":{"field":"g1","type":"nominal"},"y":{"field":"ys","type":"quantitative"},"text":{"field":"label"}}}
 ]},
 {"data":{"values":[{"g":"+/+"},{"g":"-/-"}]},"mark":{"type":"square","opacity":0},"encoding":{
   "color":{"field":"g","type":"nominal","scale":{"domain":["+/+","-/-"],"range":["#0096ff","#ff40ff"]},"legend":{"orient":"none","legendX":275,"legendY":10,"direction":"horizontal","title":null,"symbolType":"square","symbolSize":110,"symbolOpacity":1,"labelFontSize":15,"labelOffset":5,"columnPadding":16,"padding":0}}}},
 {"data":{"values":[{"g":"+/+"},{"g":"-/-"}]},"mark":{"type":"square","opacity":0},"encoding":{
   "color":{"field":"g","type":"nominal","scale":{"domain":["+/+","-/-"],"range":["#0096ff","#ff40ff"]},"legend":{"orient":"none","legendX":640,"legendY":10,"direction":"horizontal","title":null,"symbolType":"square","symbolSize":110,"symbolOpacity":1,"labelFontSize":15,"labelOffset":5,"columnPadding":16,"padding":0}}}},
 {"data":{"values":[{"g":"+/+"},{"g":"-/-"}]},"mark":{"type":"square","opacity":0},"encoding":{
   "color":{"field":"g","type":"nominal","scale":{"domain":["+/+","-/-"],"range":["#0096ff","#ff40ff"]},"legend":{"orient":"none","legendX":163,"legendY":289,"direction":"horizontal","title":null,"symbolType":"square","symbolSize":110,"symbolOpacity":1,"labelFontSize":15,"labelOffset":5,"columnPadding":16,"padding":0}}}},
 {"data":{"values":[{"g":"+/+"},{"g":"-/-"}]},"mark":{"type":"square","opacity":0},"encoding":{
   "color":{"field":"g","type":"nominal","scale":{"domain":["+/+","-/-"],"range":["#0096ff","#ff40ff"]},"legend":{"orient":"none","legendX":110,"legendY":557,"direction":"horizontal","title":null,"symbolType":"square","symbolSize":110,"symbolOpacity":1,"labelFontSize":15,"labelOffset":5,"columnPadding":16,"padding":0}}}}
],
"resolve":{"scale":{"x":"independent","y":"independent","color":"independent","xOffset":"independent","size":"independent"}}
}
